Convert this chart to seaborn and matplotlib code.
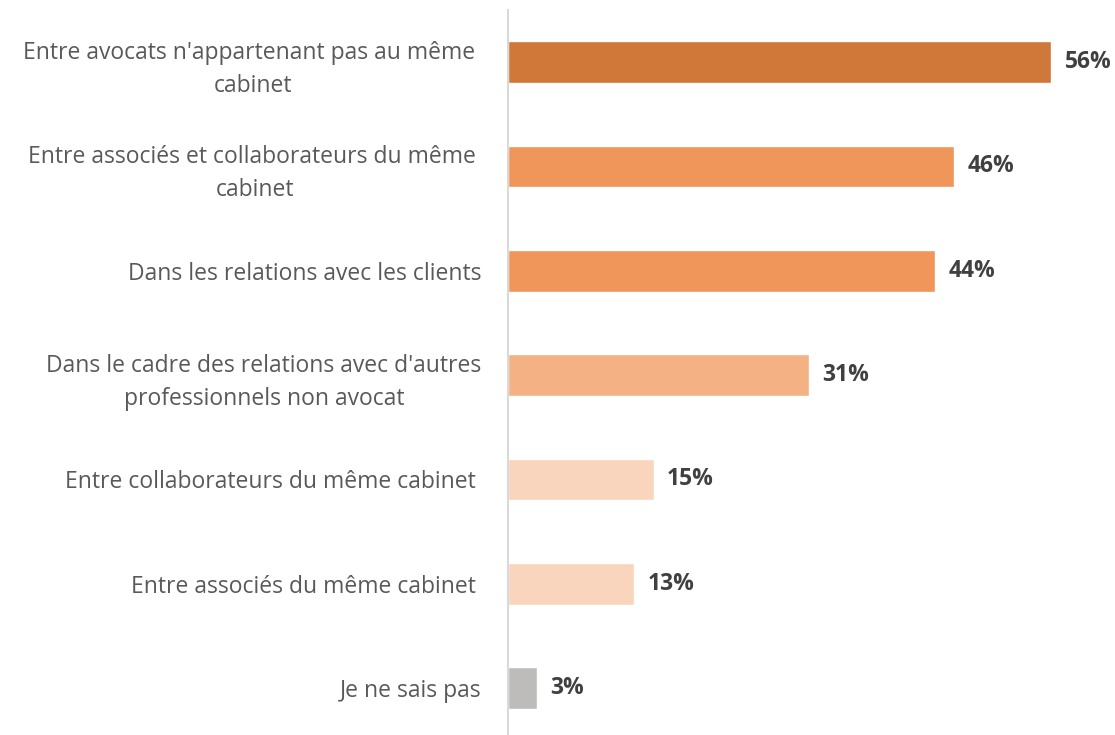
import matplotlib
matplotlib.use("Agg")
import matplotlib.pyplot as plt
import seaborn as sns
import pandas as pd

categories = [
    "Entre avocats n'appartenant pas au même \ncabinet",
    "Entre associés et collaborateurs du même \ncabinet",
    "Dans les relations avec les clients",
    "Dans le cadre des relations avec d'autres\nprofessionnels non avocat",
    "Entre collaborateurs du même cabinet ",
    "Entre associés du même cabinet ",
    "Je ne sais pas",
]
values = [56, 46, 44, 31, 15, 13, 3]
bar_colors = ["#D0773A", "#F0965A", "#F0965A", "#F4B183", "#F8D5BC", "#F8D5BC", "#BDBCBB"]

df = pd.DataFrame({"categorie": categories, "valeur": values})

sns.set_style("white")
plt.rcParams["font.family"] = ["Open Sans", "DejaVu Sans"]

fig = plt.figure(figsize=(11.15, 7.35), dpi=100)
ax = fig.add_axes([508 / 1115, 0.0, 1 - 508 / 1115 - 0.005, 1 - 10 / 735])

sns.barplot(data=df, x="valeur", y="categorie", hue="categorie", palette=bar_colors,
            orient="h", width=0.4, legend=False, ax=ax, saturation=1)

for i, v in enumerate(values):
    ax.text(v + 1.4, i, str(v) + "%", va="center", ha="left", fontsize=16.5,
            fontweight="bold", color="#404040")

ax.set_xlim(0, 62)
ax.set_ylim(6.45, -0.5)
ax.set_xlabel("")
ax.set_ylabel("")
ax.set_xticks([])
ax.tick_params(axis="y", length=0, pad=19)
for lbl in ax.get_yticklabels():
    lbl.set_fontsize(16.5)
    lbl.set_color("#595959")
    lbl.set_multialignment("center")
    lbl.set_linespacing(1.5)

for s in ["top", "right", "bottom"]:
    ax.spines[s].set_visible(False)
ax.spines["left"].set_color("#D9D9D9")
ax.spines["left"].set_linewidth(1.5)

plt.savefig("out.png", dpi=100)
plt.close()
